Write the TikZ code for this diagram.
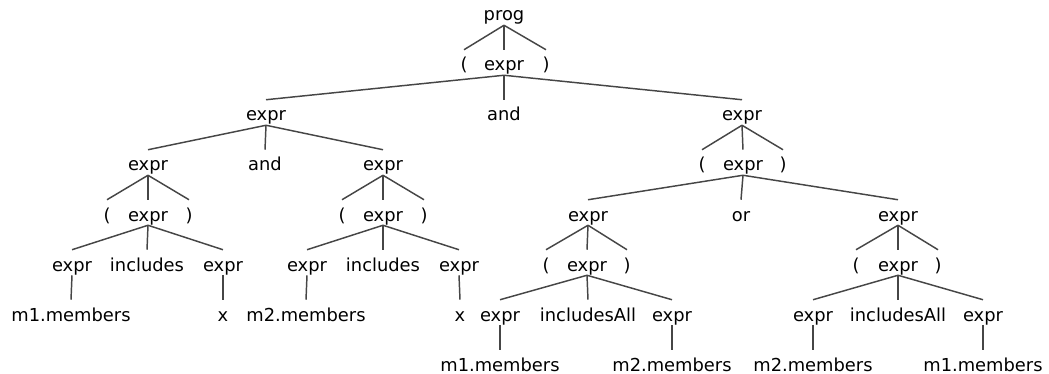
\documentclass[tikz,border=0pt]{standalone}
\usepackage{fontspec}
\setmainfont{DejaVu Sans}
\definecolor{edgecol}{RGB}{70,70,70}
\begin{document}
\begin{tikzpicture}[x=0.75pt,y=-0.75pt,
  tok/.style={inner xsep=0pt,inner ysep=0pt,text height=15.75pt,text depth=3pt,anchor=base,
    font=\fontsize{13.4pt}{15pt}\selectfont},
  edge/.style={draw=edgecol,line width=1.1pt}]
\useasboundingbox (0,0) rectangle (1049,374);
% row 0
\node[tok] (prog) at (504,21) {prog};
% row 1
\node[tok] (lp1) at (464,71) {(};
\node[tok] (e1) at (504,71) {expr};
\node[tok] (rp1) at (546,71) {)};
% row 2
\node[tok] (eL) at (266,121) {expr};
\node[tok] (and1) at (504,121) {and};
\node[tok] (eR) at (742,121) {expr};
% row 3
\node[tok] (eLL) at (148,171) {expr};
\node[tok] (and2) at (265,171) {and};
\node[tok] (eLR) at (383,171) {expr};
\node[tok] (lp3) at (702,171) {(};
\node[tok] (eR1) at (743,171) {expr};
\node[tok] (rp3) at (783,171) {)};
% row 4
\node[tok] (lp4a) at (107,221) {(};
\node[tok] (eLL1) at (148,221) {expr};
\node[tok] (rp4a) at (189,221) {)};
\node[tok] (lp4b) at (342,221) {(};
\node[tok] (eLR1) at (383,221) {expr};
\node[tok] (rp4b) at (424,221) {)};
\node[tok] (eRL) at (588,221) {expr};
\node[tok] (or) at (741,221) {or};
\node[tok] (eRR) at (898,221) {expr};
% row 5
\node[tok] (a1) at (72,271) {expr};
\node[tok] (inc1) at (147,271) {includes};
\node[tok] (a2) at (223,271) {expr};
\node[tok] (b1) at (307,271) {expr};
\node[tok] (inc2) at (383,271) {includes};
\node[tok] (b2) at (459,271) {expr};
\node[tok] (lp5a) at (546,271) {(};
\node[tok] (eRL1) at (587,271) {expr};
\node[tok] (rp5a) at (627,271) {)};
\node[tok] (lp5b) at (856,271) {(};
\node[tok] (eRR1) at (898,271) {expr};
\node[tok] (rp5b) at (938,271) {)};
% row 6
\node[tok] (m1a) at (71,321) {m1.members};
\node[tok] (xa) at (223,321) {x};
\node[tok] (m2a) at (306,321) {m2.members};
\node[tok] (xb) at (460,321) {x};
\node[tok] (c1) at (500,321) {expr};
\node[tok] (incA1) at (588,321) {includesAll};
\node[tok] (c2) at (672,321) {expr};
\node[tok] (d1) at (813,321) {expr};
\node[tok] (incA2) at (898,321) {includesAll};
\node[tok] (d2) at (983,321) {expr};
% row 7
\node[tok] (m1b) at (500,371) {m1.members};
\node[tok] (m2b) at (672,371) {m2.members};
\node[tok] (m2c) at (813,371) {m2.members};
\node[tok] (m1c) at (983,371) {m1.members};
% edges
\foreach \p/\c in {prog/lp1,prog/e1,prog/rp1,
  e1/eL,e1/and1,e1/eR,
  eL/eLL,eL/and2,eL/eLR,
  eLL/lp4a,eLL/eLL1,eLL/rp4a,
  eLL1/a1,eLL1/inc1,eLL1/a2,
  a1/m1a,a2/xa,
  eLR/lp4b,eLR/eLR1,eLR/rp4b,
  eLR1/b1,eLR1/inc2,eLR1/b2,
  b1/m2a,b2/xb,
  eR/lp3,eR/eR1,eR/rp3,
  eR1/eRL,eR1/or,eR1/eRR,
  eRL/lp5a,eRL/eRL1,eRL/rp5a,
  eRL1/c1,eRL1/incA1,eRL1/c2,
  c1/m1b,c2/m2b,
  eRR/lp5b,eRR/eRR1,eRR/rp5b,
  eRR1/d1,eRR1/incA2,eRR1/d2,
  d1/m2c,d2/m1c}
  \draw[edge] (\p.south) -- (\c.north);
\end{tikzpicture}
\end{document}
